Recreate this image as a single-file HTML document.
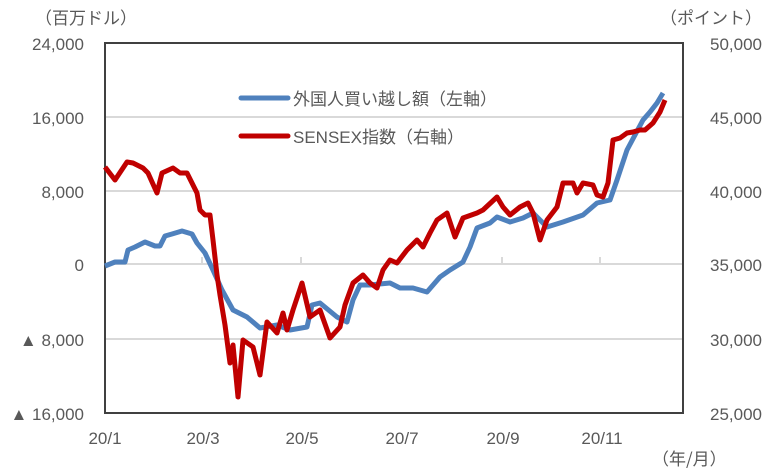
<!DOCTYPE html>
<html><head><meta charset="utf-8"><style>
body{margin:0;background:#fff;}
svg{display:block;font-family:"Liberation Sans","Noto Sans CJK JP",sans-serif;}
text{fill:#595959;font-size:17px;}
.j{font-family:"Noto Sans CJK JP",sans-serif;}
</style></head><body>
<svg width="771" height="472" viewBox="0 0 771 472">
<g stroke="#d9d9d9" stroke-width="2">
<line x1="105" y1="117" x2="683" y2="117"/>
<line x1="105" y1="191" x2="683" y2="191"/>
<line x1="105" y1="264" x2="683" y2="264"/>
<line x1="105" y1="339" x2="683" y2="339"/>
<line x1="202" y1="264" x2="202" y2="257"/>
<line x1="301" y1="264" x2="301" y2="257"/>
<line x1="400" y1="264" x2="400" y2="257"/>
<line x1="502" y1="264" x2="502" y2="257"/>
<line x1="600" y1="264" x2="600" y2="257"/>
</g>
<rect x="105" y="43" width="578" height="370" fill="none" stroke="#404040" stroke-width="2"/>
<polyline fill="none" stroke="#4f81bd" stroke-width="5" stroke-linejoin="round" points="105,266 115,262 125,262 128,250 135,247 145,242 155,246 160,246 165,236 172,234 182,231 192,234 197,243 205,253 213,270 222,290 233,310 247,317 260,328 277,325 290,330 307,327 312,305 320,303 337,317 347,322 353,300 360,285 370,285 390,283 400,288 413,288 427,292 440,277 450,270 463,262 470,247 477,228 490,223 497,217 510,222 523,218 533,213 547,227 563,222 583,215 597,203 610,200 617,180 627,150 635,135 643,120 650,112 657,103 663,93"/>
<polyline fill="none" stroke="#c00000" stroke-width="5" stroke-linejoin="round" points="105,167 115,180 127,162 133,163 143,168 148,173 157,193 162,173 173,168 180,173 187,173 197,193 200,210 205,215 210,215 213,240 217,275 220,295 225,325 230,363 233,345 238,397 243,340 253,347 260,375 267,322 277,333 283,313 287,330 293,310 302,283 310,317 320,310 330,338 340,327 345,305 353,283 363,275 370,283 377,288 383,270 390,260 397,263 407,250 417,240 423,247 430,233 437,220 447,213 455,237 463,218 477,213 483,210 497,197 503,207 510,215 520,207 528,203 533,213 540,240 547,220 557,207 563,183 573,183 577,193 583,183 593,185 597,195 603,197 608,183 613,140 620,138 627,133 633,132 640,130 645,130 653,123 660,112 665,100"/>
<line x1="241" y1="98" x2="288" y2="98" stroke="#4f81bd" stroke-width="5" stroke-linecap="round"/>
<line x1="241" y1="136" x2="288" y2="136" stroke="#c00000" stroke-width="5" stroke-linecap="round"/>
<text x="293" y="105">外国人買い越し額（左軸）</text>
<text x="293" y="143">SENSEX指数（右軸）</text>
<text x="35" y="24" font-size="20" class="j">（百万ドル）</text>
<text x="762" y="24" font-size="20" text-anchor="end" class="j">（ポイント）</text>
<g text-anchor="end">
<text x="84" y="50" font-size="18">24,000</text>
<text x="84" y="124" font-size="18">16,000</text>
<text x="84" y="198" font-size="18">8,000</text>
<text x="84" y="271" font-size="18">0</text>
<text x="84" y="346" font-size="18">▲ 8,000</text>
<text x="84" y="420" font-size="18">▲ 16,000</text>
</g>
<g text-anchor="end">
<text x="762" y="50" font-size="18">50,000</text>
<text x="762" y="124" font-size="18">45,000</text>
<text x="762" y="198" font-size="18">40,000</text>
<text x="762" y="271" font-size="18">35,000</text>
<text x="762" y="346" font-size="18">30,000</text>
<text x="762" y="420" font-size="18">25,000</text>
</g>
<g text-anchor="middle">
<text x="105" y="444" font-size="18">20/1</text>
<text x="203" y="444" font-size="18">20/3</text>
<text x="302" y="444" font-size="18">20/5</text>
<text x="402" y="444" font-size="18">20/7</text>
<text x="503" y="444" font-size="18">20/9</text>
<text x="602" y="444" font-size="18">20/11</text>
</g>
<text x="652" y="465" font-size="20" class="j">（年/月）</text>
</svg>
</body></html>
